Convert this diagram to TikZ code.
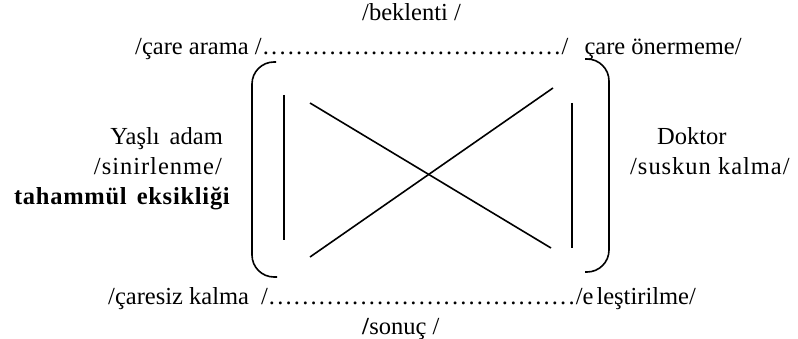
\documentclass[tikz,border=0pt]{standalone}
\usepackage{fontspec}
\setmainfont{Liberation Serif}
\newcommand\dotrow[1]{\hbox to #1pt{\xleaders\hbox to 8.2pt{\hss.\hss}\hfill}}
\begin{document}
\begin{tikzpicture}[x=1pt,y=-1pt,
  txt/.style={inner sep=0pt, font=\fontsize{24.5}{30}\selectfont},
  spaced/.style={inner sep=0pt, font=\fontsize{24.5}{30}\selectfont\addfontfeature{LetterSpace=4}},
  ln/.style={line width=1.6pt}]
\useasboundingbox (0,0) rectangle (798,339);
% texts
\node[txt, anchor=base west] (bek) at (362,21) {/beklenti /};
\node[txt, anchor=base west] (topline) at (135,55) {/çare arama /\dotrow{300}/\hspace{16pt}çare önermeme/};
\node[txt, anchor=base east] (ya) at (223,145) {Yaşlı\hspace{10pt}adam};
\node[spaced, anchor=base east] (sin) at (222,175) {/sinirlenme/};
\node[txt, anchor=base east] (tah) at (230,205) {\bfseries\addfontfeature{LetterSpace=3}tahammül\hspace{10pt}eksikliği};
\node[txt, anchor=base west] (dok) at (657,145) {Doktor};
\node[spaced, anchor=base west] (sus) at (630,175) {/suskun kalma/};
\node[txt, anchor=base west] (botline) at (108,305) {/çaresiz kalma\hspace{12pt}/\dotrow{308}/e\hspace{3pt}leştirilme/};
\node[txt, anchor=base west] (son) at (362,334) {\textbf{/}sonuç /};
% brackets
\coordinate (lt) at (276,62); \coordinate (ltc) at (252,62);
\coordinate (lbc) at (252,277); \coordinate (lb) at (277,277);
\coordinate (rt) at (585,59); \coordinate (rtc) at (609,59);
\coordinate (rbc) at (609,272); \coordinate (rb) at (585,272);
\draw[ln, rounded corners=22pt] (lt) -- (ltc) -- (lbc) -- (lb);
\draw[ln, rounded corners=22pt] (rt) -- (rtc) -- (rbc) -- (rb);
% inner lines
\coordinate (il1) at (284,95); \coordinate (il2) at (284,240);
\coordinate (ir1) at (572,103); \coordinate (ir2) at (572,248);
\draw[ln] (il1) -- (il2);
\draw[ln] (ir1) -- (ir2);
% diagonals
\coordinate (da1) at (310,103); \coordinate (da2) at (551,248);
\coordinate (db1) at (310,257); \coordinate (db2) at (553,88);
\draw[ln] (da1) -- (da2);
\draw[ln] (db1) -- (db2);
\end{tikzpicture}
\end{document}
